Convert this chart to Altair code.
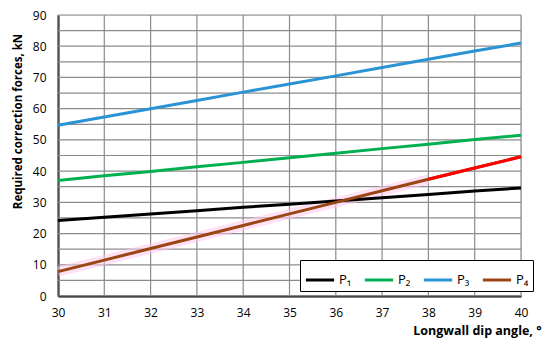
import altair as alt
import pandas as pd

angles = [30, 31, 32, 33, 34, 35, 36, 37, 38, 39, 40]
p1 = [24.2, 25.2, 26.3, 27.3, 28.4, 29.4, 30.4, 31.5, 32.5, 33.6, 34.6]
p2 = [37.0, 38.5, 39.9, 41.4, 42.8, 44.3, 45.7, 47.2, 48.6, 50.1, 51.5]
p3 = [54.7, 57.3, 60.0, 62.6, 65.3, 67.9, 70.5, 73.2, 75.8, 78.5, 81.0]
p4 = [7.8, 11.5, 15.2, 18.9, 22.6, 26.3, 30.0, 33.7, 37.4, 41.0, 44.6]
series_names = ["P\u2081", "P\u2082", "P\u2083", "P\u2084"]
series_colors = ["#000000", "#00b050", "#2a93d5", "#9a4512"]
p4_red_from = 38
y_grid_values = [0, 5, 10, 15, 20, 25, 30, 35, 40, 45, 50, 55, 60, 65, 70, 75, 80, 85, 90]
y_label_values = [0, 10, 20, 30, 40, 50, 60, 70, 80, 90]

rows = []
for name, vals in zip(series_names, [p1, p2, p3, p4]):
    for a, v in zip(angles, vals):
        rows.append({"angle": a, "force": v, "series": name})
df = pd.DataFrame(rows)
df4 = df[df.series == series_names[3]]

FONT = "Open Sans"
GRID = "#8c8c8c"

xs = alt.Scale(domain=[30, 40], nice=False)
ys = alt.Scale(domain=[0, 90], nice=False)

x_axis = alt.Axis(
    values=angles, title="Longwall dip angle, \u00b0", grid=False,
    domainColor="#000000", domainWidth=2, ticks=False, labelPadding=11,
    labelFontSize=12, labelColor="#000000", labelFont=FONT, labelFlush=False,
    titleFont=FONT, titleFontSize=12.5, titleFontWeight="bold", titleColor="#000000",
    titleAnchor="end", titleAlign="right", titleX=483, titleY=34, titleBaseline="middle",
)
y_axis = alt.Axis(
    values=y_label_values, labelOverlap=False,
    title="Required correction forces, kN", grid=False,
    domainColor="#000000", domainWidth=2, ticks=False, labelPadding=12,
    labelFontSize=12, labelColor="#000000", labelFont=FONT,
    titleFont=FONT, titleFontSize=11.5, titleFontWeight="bold", titleColor="#000000",
    titleAngle=-90, titleX=-40, titleY=106, titleAlign="center", titleBaseline="middle",
)

xgrid = alt.Chart(pd.DataFrame({"angle": angles})).mark_rule(
    color=GRID, strokeWidth=1.2, opacity=1
).encode(
    x=alt.X("angle:Q", scale=xs, axis=x_axis)
)
ygrid = alt.Chart(pd.DataFrame({"force": y_grid_values})).mark_rule(
    color=GRID, strokeWidth=1.2, opacity=1
).encode(
    y=alt.Y("force:Q", scale=ys, axis=y_axis)
)

glow = alt.Chart(df4[df4.angle <= p4_red_from]).mark_line(
    color="#ffc8ec", strokeWidth=10, opacity=0.55
).encode(x=alt.X("angle:Q", scale=xs, axis=x_axis), y=alt.Y("force:Q", scale=ys, axis=y_axis))

lines = alt.Chart(df).mark_line(strokeWidth=3).encode(
    x=alt.X("angle:Q", scale=xs, axis=x_axis),
    y=alt.Y("force:Q", scale=ys, axis=y_axis),
    color=alt.Color(
        "series:N",
        scale=alt.Scale(domain=series_names, range=series_colors),
        legend=alt.Legend(
            title=None, orient="none", legendX=242, legendY=245, direction="horizontal",
            columns=4, symbolType="stroke", symbolStrokeWidth=3, symbolSize=800,
            labelFontSize=13, labelFont=FONT, labelColor="#000000", labelOffset=3,
            columnPadding=6, padding=4, strokeColor="#000000", fillColor="#ffffff",
        ),
    ),
    detail="series:N",
)

red = alt.Chart(df4[df4.angle >= p4_red_from]).mark_line(color="#ff0000", strokeWidth=3).encode(
    x=alt.X("angle:Q", scale=xs, axis=x_axis), y=alt.Y("force:Q", scale=ys, axis=y_axis)
)

chart = (
    alt.layer(xgrid, ygrid, glow, lines, red)
    .properties(
        width=463, height=281,
        autosize=alt.AutoSizeParams(type="none"),
        padding={"left": 50, "top": 7, "right": 21, "bottom": 44},
    )
    .configure_view(strokeWidth=0)
    .configure(background="#ffffff")
)

chart.save("out.html", embed_options={"renderer": "svg", "actions": False})
